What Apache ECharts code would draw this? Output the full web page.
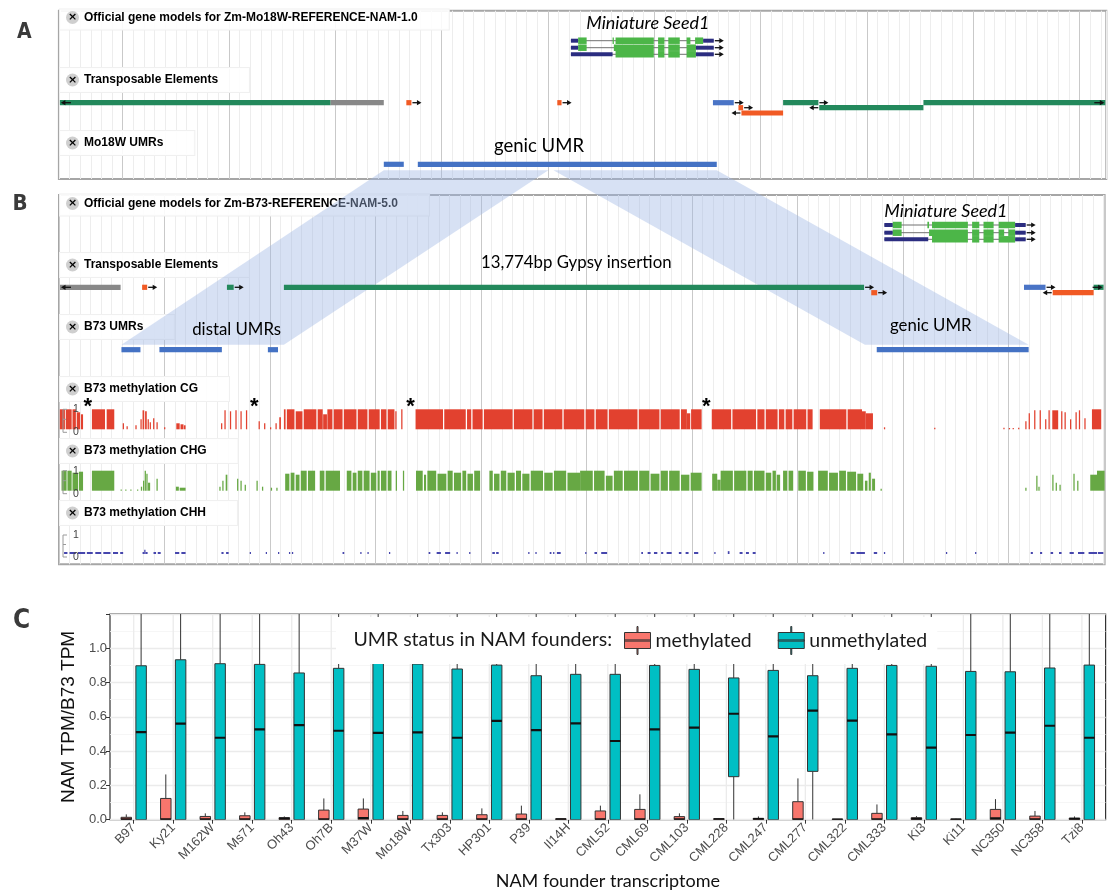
<!DOCTYPE html>
<html>
<head>
<meta charset="utf-8">
<script src="https://cdn.jsdelivr.net/npm/echarts@6.0.0/dist/echarts.min.js"></script>
<style>
html,body{margin:0;padding:0;background:#fff;}
#chart{width:1111px;height:893px;}
</style>
</head>
<body>
<div id="chart"></div>
<script>
// ====================== DATA ======================
// ---- Panel C: expression ratio box plots ----
const founders = ['B97','Ky21','M162W','Ms71','Oh43','Oh7B','M37W','Mo18W','Tx303','HP301','P39','Il14H','CML52','CML69','CML103','CML228','CML247','CML277','CML322','CML333','Ki3','Ki11','NC350','NC358','Tzi8'];
// methylated UMR status (red)
const metLow    = [0,0,0,0,0,0,0,0,0,0,0,0,0,0,0,0,0,0,0,0,0,0,0,0,0];
const metQ1     = [0,0,0,0,0,0,0,0,0,0,0,0,0,0,0,0,0,0,0,0,0,0,0,0,0];
const metMedian = [0.002,0.002,0.002,0.002,0.006,0.002,0.010,0.002,0.002,0.002,0.002,0.002,0.002,0.002,0.002,0.002,0.004,0.002,0.001,0.002,0.003,0.001,0.008,0.002,0.004];
const metQ3     = [0.014,0.124,0.019,0.023,0.012,0.056,0.062,0.025,0.025,0.029,0.033,0.005,0.051,0.060,0.018,0.006,0.008,0.105,0.003,0.037,0.012,0.004,0.060,0.021,0.010];
const metHigh   = [0.031,0.264,0.037,0.043,0.019,0.124,0.124,0.051,0.043,0.066,0.082,0.007,0.082,0.148,0.037,0.010,0.019,0.241,0.004,0.089,0.021,0.006,0.120,0.051,0.019];
// unmethylated UMR status (cyan)
const unLow     = [0,0,0,0,0,0,0,0,0,0,0,0,0,0,0,0,0,0,0,0,0,0,0,0,0];
const unQ1      = [0,0,0,0,0,0,0,0,0,0,0,0,0,0,0,0.251,0,0.282,0,0,0,0,0,0,0];
const unMedian  = [0.511,0.560,0.478,0.527,0.552,0.519,0.506,0.510,0.478,0.576,0.523,0.562,0.459,0.527,0.537,0.618,0.486,0.636,0.578,0.498,0.420,0.494,0.508,0.548,0.478];
const unQ3      = [0.898,0.933,0.910,0.906,0.856,0.883,0.940,0.908,0.879,0.902,0.840,0.848,0.848,0.900,0.877,0.827,0.871,0.840,0.883,0.900,0.895,0.865,0.863,0.885,0.902];
const unHigh    = [1.5,1.5,1.5,1.5,1.5,1.5,1.5,1.5,1.5,1.5,1.5,1.5,1.5,1.5,1.5,1.5,1.5,1.5,1.5,1.5,1.5,1.5,1.5,1.5,1.5];

// ---- Panel A: Mo18W browser (kb from left edge of view) ----
const aTranscripts = [
  [[12.04,12.21,'utr'],[12.21,12.41,'cds'],[13.02,13.05,'cds'],[13.09,13.99,'cds'],[14.09,14.24,'cds'],[14.33,14.60,'cds'],[14.76,14.85,'cds'],[14.96,15.15,'cds'],[15.15,15.40,'utr']],
  [[12.04,12.21,'utr'],[12.21,12.41,'cds'],[13.05,13.99,'cds'],[14.09,14.24,'cds'],[14.33,14.60,'cds'],[14.76,14.98,'cds'],[14.98,15.40,'utr']],
  [[12.04,13.02,'utr'],[13.09,13.99,'cds'],[14.09,14.24,'cds'],[14.33,14.60,'cds'],[14.76,14.98,'cds'],[14.98,15.40,'utr']]
];
// [start, end, strand, row, class]
const aTEs = [
  [-0.5,6.39,-1,0,'LTR'],[6.39,7.64,0,0,'other'],[8.17,8.29,1,0,'DNA'],[11.72,11.82,1,0,'DNA'],
  [15.38,15.87,1,0,'Helitron'],[15.98,16.09,1,1,'DNA'],[16.05,17.03,-1,2,'DNA'],
  [17.03,17.86,1,0,'LTR'],[17.88,20.33,-1,1,'LTR'],[20.33,25.5,1,0,'LTR']
];
const aUMRs = [[7.64,8.11],[8.44,15.47]];

// ---- Panel B: B73 browser ----
const bTranscripts = [
  [[19.56,19.76,'utr'],[19.76,19.97,'cds'],[20.58,20.62,'cds'],[20.69,21.54,'cds'],[21.64,21.81,'cds'],[21.91,22.15,'cds'],[22.27,22.66,'cds'],[22.66,22.91,'utr']],
  [[19.56,19.76,'utr'],[19.76,19.97,'cds'],[20.62,21.54,'cds'],[21.64,21.81,'cds'],[21.91,22.15,'cds'],[22.27,22.40,'cds'],[22.50,22.66,'cds'],[22.66,22.91,'utr']],
  [[19.56,20.60,'utr'],[20.69,21.54,'cds'],[21.64,21.81,'cds'],[21.91,22.15,'cds'],[22.27,22.66,'cds'],[22.66,22.91,'utr']]
];
const bTEs = [
  [-0.5,1.46,-1,0,'other'],[1.97,2.09,1,0,'DNA'],[3.98,4.14,1,0,'LTR'],[5.33,19.08,1,0,'LTR'],
  [19.25,19.39,1,1,'DNA'],[22.87,23.38,1,0,'Helitron'],[23.55,24.52,-1,1,'DNA'],[24.52,25.5,1,0,'LTR']
];
const bUMRs = [[1.48,1.93],[2.38,3.86],[4.95,5.19],[19.38,22.98]];
// methylation segments [start kb, end kb, level 0-1]
const cgSegments = [
  [0.02,0.14,1.0],[0.16,0.30,1.0],[0.32,0.40,1.0],[0.42,0.50,0.85],[0.52,0.57,0.75],[0.78,1.09,1.0],[1.13,1.31,1.0],
  [1.51,1.54,0.30],[1.60,1.63,0.15],[1.81,1.84,0.20],[1.93,1.96,0.50],[1.98,2.02,0.95],[2.04,2.08,0.90],[2.10,2.13,0.50],[2.15,2.17,0.35],
  [2.23,2.26,0.55],[2.31,2.34,0.35],[2.49,2.52,0.10],[2.78,2.86,0.30],[2.88,2.95,0.25],[2.96,3.00,0.20],
  [3.84,3.87,0.30],[3.92,3.95,0.95],[4.05,4.08,0.90],[4.18,4.21,0.95],[4.30,4.33,0.90],[4.43,4.46,0.95],
  [4.73,4.76,0.40],[4.86,4.89,0.30],[5.00,5.03,0.10],[5.13,5.16,0.30],[5.22,5.26,0.60],
  [5.33,5.37,1.0],[5.40,5.58,1.0],[5.61,5.77,0.9],[5.80,6.10,1.0],[6.13,6.25,1.0],[6.26,6.35,0.75],[6.36,6.48,1.0],[6.51,6.72,1.0],[6.75,7.05,1.0],[7.08,7.31,1.0],[7.34,7.60,1.0],[7.63,7.76,1.0],[7.79,7.95,1.0],[7.97,8.00,0.9],
  [8.11,8.14,1.0],
  [8.45,9.10,1.0],[9.13,9.64,1.0],[9.67,9.77,1.0],[9.80,10.04,1.0],[10.07,10.75,1.0],[10.78,11.22,1.0],[11.25,11.46,1.0],[11.49,11.93,1.0],[11.96,12.45,1.0],[12.48,12.69,1.0],[12.72,13.00,1.0],[13.03,13.71,1.0],[13.74,14.23,1.0],[14.26,14.71,1.0],[14.74,14.88,1.0],[14.88,14.96,0.8],[14.98,15.23,1.0],
  [15.47,15.93,1.0],[15.96,16.52,1.0],[16.55,16.72,1.0],[16.75,17.03,1.0],[17.06,17.19,1.0],[17.22,17.38,1.0],[17.41,17.71,1.0],[17.74,17.86,1.0],[18.03,18.66,1.0],[18.69,19.03,1.0],[19.03,19.12,0.9],[19.12,19.29,0.8],
  [19.55,19.58,0.10],[20.74,20.77,0.08],[22.38,22.41,0.08],[22.51,22.54,0.06],[22.60,22.63,0.05],[22.73,22.76,0.08],
  [22.90,22.93,0.40],[22.98,23.01,0.80],[23.11,23.14,0.95],[23.24,23.27,0.95],[23.37,23.40,0.50],[23.45,23.48,0.95],[23.54,23.68,0.95],[23.75,23.78,0.90],[23.83,23.86,0.85],[23.96,23.99,0.50],[24.09,24.12,0.85],[24.17,24.20,0.95],[24.30,24.33,0.55],[24.48,24.70,1.0]
];
const chgSegments = [
  [0.06,0.18,1.0],[0.20,0.30,1.0],[0.32,0.45,0.90],[0.47,0.57,0.95],[0.78,1.31,1.0],
  [1.46,1.48,0.05],[1.57,1.59,0.05],[1.69,1.71,0.05],[1.85,1.87,0.05],
  [1.94,1.97,0.20],[1.99,2.02,0.50],[2.03,2.06,1.00],[2.07,2.10,0.85],[2.11,2.16,0.40],[2.31,2.34,0.60],
  [2.77,2.84,0.20],[2.86,3.00,0.15],[3.80,3.83,0.20],[3.87,3.90,0.50],[3.95,3.99,0.80],
  [4.22,4.25,0.60],[4.30,4.33,0.50],[4.40,4.43,0.30],[4.68,4.71,0.50],[4.81,4.84,0.20],[5.02,5.05,0.15],[5.15,5.18,0.15],
  [5.36,5.46,0.85],[5.49,5.58,0.9],[5.61,5.70,0.8],[5.73,5.87,1.0],[5.90,6.07,1.0],
  [6.18,6.29,1.0],[6.32,6.66,1.0],
  [6.82,6.93,1.0],[6.96,7.05,0.9],[7.08,7.19,1.0],[7.22,7.36,1.0],[7.39,7.52,0.9],[7.55,7.60,1.0],[7.63,7.76,1.0],[7.79,7.88,1.0],
  [7.98,8.01,1.0],[8.15,8.18,1.0],
  [8.46,8.62,1.0],[8.65,8.70,0.8],[8.73,8.94,1.0],[8.97,9.18,0.85],[9.21,9.33,1.0],[9.36,9.53,0.9],[9.56,9.65,1.0],[9.68,9.81,0.85],[9.84,9.98,1.0],
  [10.20,10.28,1.0],[10.31,10.44,0.85],[10.47,10.60,1.0],[10.63,10.80,0.9],[10.83,10.95,1.0],[10.98,11.15,0.85],[11.18,11.47,1.0],[11.50,11.70,0.9],[11.73,12.02,1.0],[12.05,12.35,0.9],
  [12.35,12.65,1.0],[12.68,12.93,1.0],[12.96,13.12,0.75],[13.15,13.36,1.0],[13.39,13.72,1.0],[13.75,13.99,1.0],[14.02,14.23,0.85],[14.26,14.43,1.0],[14.46,14.71,1.0],[14.74,14.94,0.8],[14.97,15.23,0.9],
  [15.48,15.60,0.85],[15.60,15.68,0.55],[15.68,15.97,1.0],[16.00,16.29,1.0],[16.32,16.44,1.0],[16.47,16.72,1.0],[16.75,16.88,0.9],[16.91,16.99,1.0],[17.01,17.09,0.8],
  [17.16,17.26,1.0],[17.29,17.40,1.0],[17.52,17.70,1.0],[17.73,17.88,0.95],
  [17.99,18.22,1.0],[18.25,18.46,0.9],[18.49,18.65,1.0],[18.68,18.89,0.95],[18.92,19.06,0.85],
  [19.10,19.16,0.5],[19.19,19.24,0.9],[19.27,19.34,0.6],
  [19.47,19.50,0.10],[22.90,22.93,0.15],[23.16,23.19,0.75],[23.21,23.24,0.20],[23.54,23.57,0.80],[23.62,23.65,0.40],[23.71,23.74,0.30],
  [24.04,24.07,0.85],[24.13,24.16,0.50],[24.44,24.60,0.80],[24.60,24.78,1.0]
];
const chhSegments = [
  [0.12,0.20,0.05],[0.25,0.40,0.06],[0.45,0.62,0.08],[0.66,0.80,0.06],[0.86,1.00,0.05],[1.05,1.22,0.07],[1.28,1.40,0.05],[1.45,1.52,0.04],
  [1.98,2.02,0.10],[2.02,2.05,0.22],[2.05,2.10,0.10],[2.24,2.30,0.05],[2.34,2.41,0.05],[2.75,2.85,0.05],[2.90,3.00,0.04],
  [3.85,3.90,0.03],[3.96,4.02,0.03],[4.52,4.55,0.03],[4.90,4.93,0.03],[5.19,5.22,0.05],[5.45,5.48,0.04],[5.52,5.55,0.04],
  [6.72,6.76,0.05],[7.14,7.17,0.06],[7.31,7.34,0.05],[7.82,7.85,0.05],[8.76,8.80,0.03],[8.95,9.05,0.03],[9.15,9.27,0.03],[9.42,9.45,0.04],[9.72,9.75,0.03],
  [10.27,10.33,0.06],[10.36,10.42,0.06],[11.12,11.15,0.03],[11.29,11.32,0.03],[11.63,11.67,0.03],[11.71,11.74,0.04],[11.80,11.89,0.03],
  [12.47,12.50,0.04],[12.69,12.75,0.04],[12.85,12.99,0.04],[13.80,13.84,0.04],[13.95,14.02,0.04],[14.10,14.18,0.05],[14.27,14.32,0.05],[14.40,14.52,0.06],
  [14.69,14.75,0.04],[14.85,14.92,0.05],[15.05,15.15,0.04],[15.53,15.56,0.05],[15.85,15.89,0.15],[16.13,16.20,0.05],[16.28,16.35,0.05],[16.44,16.51,0.05],
  [18.11,18.14,0.06],[18.76,18.85,0.06],[18.90,19.10,0.08],[19.31,19.39,0.05],[19.55,19.58,0.02],[21.02,21.05,0.02],[21.71,21.74,0.02],
  [23.03,23.08,0.03],[23.25,23.30,0.03],[23.50,23.56,0.04],[23.70,23.76,0.03],[23.95,24.05,0.05],[24.15,24.30,0.05],[24.40,24.60,0.06],[24.62,24.75,0.04]
];
const cgAsterisks = [0.68, 4.63, 8.33, 15.34];
// syntenic links: Mo18W kb range (top) -> B73 kb range (bottom)
const linkTop    = [[7.64,11.51],[11.63,15.47]];
const linkBottom = [[1.48,5.33],[19.10,22.98]];

// ====================== STYLE / LAYOUT ======================
const COL = {cds:'#4cb648', utr:'#2b2d80', intron:'#707070', umr:'#4472c4', cg:'#e2412f', chg:'#67a844', chh:'#4646ad'};
const TE_COLORS = {LTR:'#23895c', other:'#888888', DNA:'#f15a24', Helitron:'#4a74c6'};
const LAY = {
  A: {gene:[30,37,43.6], te:[92,97,102.3], umr:153.6, band:159.6},
  B: {gene:[30,37.7,44.3], te:[92.3,97.7], umr:154.7, band:149.7, cg:234.3, chg:295.7, chh:359, H:20, star:212}
};
const annA = [{t:'Miniature Seed1', x:13.85, y:12.6, it:true, fs:18}, {t:'genic UMR', x:11.29, y:135, fs:18.5}];
const annB = [{t:'Miniature Seed1', x:21.02, y:15.7, it:true, fs:18}, {t:'13,774bp Gypsy insertion', x:12.26, y:67.7, fs:16.8},
              {t:'distal UMRs', x:4.21, y:135, fs:16.8}, {t:'genic UMR', x:20.66, y:131, fs:16.8}];
const minorC = '#ededed', majorC = '#c9c9c9';
const gridColorsA = [minorC,minorC,minorC,minorC,minorC,minorC,majorC,minorC,minorC,minorC];
const gridColorsB = [majorC,minorC,minorC,minorC,minorC,minorC,minorC,minorC,minorC,minorC];
const ANN_FONT = 'Lato, "Open Sans", sans-serif';
const AX_FONT = '"Liberation Sans", Arial, sans-serif';

// ====================== RENDER HELPERS ======================
function arrow(x1, x2, y) {
  const d = x2 > x1 ? 1 : -1;
  return [
    {type:'line', shape:{x1:x1, y1:y, x2:x2 - d*2, y2:y}, style:{stroke:'#111', lineWidth:1.3}},
    {type:'polygon', shape:{points:[[x2,y],[x2-d*4.5,y-2.6],[x2-d*4.5,y+2.6]]}, style:{fill:'#111'}}
  ];
}
function rectKb(api, x0, x1, y, h, fill) {
  const a = api.coord([x0, y]), b = api.coord([x1, y]);
  return {type:'rect', shape:{x:a[0], y:a[1]-h/2, width:Math.max(b[0]-a[0],1.2), height:h}, style:{fill:fill}};
}
function geneRender(transcripts, rows) {
  return function (params, api) {
    const t = transcripts[params.dataIndex], y = rows[params.dataIndex];
    const ps = api.coord([t[0][0], y]), pe = api.coord([t[t.length-1][1], y]);
    const ch = [{type:'line', shape:{x1:ps[0], y1:ps[1], x2:pe[0], y2:pe[1]}, style:{stroke:COL.intron, lineWidth:1}}];
    t.forEach(b => ch.push(rectKb(api, b[0], b[1], y, b[2]==='cds'?6.5:4, b[2]==='cds'?COL.cds:COL.utr)));
    ch.push(...arrow(pe[0]+1, pe[0]+10, pe[1]));
    return {type:'group', children:ch};
  };
}
function teRender(tes, rows) {
  return function (params, api) {
    const f = tes[params.dataIndex], cs = params.coordSys;
    const xmin = cs.x, xmax = cs.x + cs.width, y = rows[f[3]];
    const a = api.coord([f[0], y]), b = api.coord([f[1], y]);
    const clipL = a[0] < xmin, clipR = b[0] > xmax;
    const x0 = Math.max(a[0], xmin+1), x1 = Math.min(b[0], xmax-1);
    const ch = [{type:'rect', shape:{x:x0, y:a[1]-2.6, width:Math.max(x1-x0,1.5), height:5.2}, style:{fill:TE_COLORS[f[4]]}}];
    if (f[2] > 0) ch.push(...(clipR ? arrow(xmax-12, xmax-2, a[1]) : arrow(x1+1, x1+10, a[1])));
    if (f[2] < 0) ch.push(...(clipL ? arrow(xmin+12, xmin+2, a[1]) : arrow(x0-1, x0-10, a[1])));
    return {type:'group', children:ch};
  };
}
function umrRender(y) {
  return function (params, api) { return rectKb(api, api.value(0), api.value(1), y, 5.2, COL.umr); };
}
function methRender(base, H, color, minH) {
  return function (params, api) {
    const s = api.value(0), e = api.value(1), lv = api.value(2);
    const p0 = api.coord([s, base - lv*H]), p1 = api.coord([e, base]);
    const h = Math.max(p1[1]-p0[1], minH);
    return {type:'rect', shape:{x:p0[0], y:p1[1]-h, width:Math.max(p1[0]-p0[0],1.2), height:h}, style:{fill:color}};
  };
}
function annRender(list) {
  return function (params, api) {
    const a = list[params.dataIndex];
    const p = api.coord([a.x, a.y]);
    return {type:'text', x:p[0], y:p[1], style:{text:a.t, fontFamily:ANN_FONT, fontSize:a.fs, fontStyle:a.it?'italic':'normal', fill:'#000', align:'center', verticalAlign:'middle'}};
  };
}
function trackAxisRender(bases, heights) {
  return function (params, api) {
    const i = params.dataIndex, cs = params.coordSys;
    const top = api.coord([0, bases[i]-heights[i]])[1], bot = api.coord([0, bases[i]])[1];
    const x = cs.x + 4;
    const st = {stroke:'#9a9a9a', lineWidth:1};
    return {type:'group', children:[
      {type:'line', shape:{x1:x, y1:top, x2:x, y2:bot+3}, style:st},
      {type:'line', shape:{x1:x, y1:top, x2:x+4, y2:top}, style:st},
      {type:'line', shape:{x1:x, y1:(top+bot)/2, x2:x+3, y2:(top+bot)/2}, style:st},
      {type:'line', shape:{x1:x, y1:bot+3, x2:x+4, y2:bot+3}, style:st},
      {type:'text', x:x+10, y:top, style:{text:'1', fontFamily:AX_FONT, fontSize:10.5, fill:'#444', align:'left', verticalAlign:'middle'}},
      {type:'text', x:x+10, y:bot+3, style:{text:'0', fontFamily:AX_FONT, fontSize:10.5, fill:'#444', align:'left', verticalAlign:'middle'}}
    ]};
  };
}
function boxRender(offset, color) {
  return function (params, api) {
    const i = api.value(0);
    const bw = api.size([1,0])[0];
    const cx = api.coord([i,0])[0] + offset*bw, w = 0.265*bw;
    const yLo = api.coord([i, api.value(1)])[1], yQ1 = api.coord([i, api.value(2)])[1];
    const yMd = api.coord([i, api.value(3)])[1], yQ3 = api.coord([i, api.value(4)])[1], yHi = api.coord([i, api.value(5)])[1];
    const ls = {stroke:'#333', lineWidth:1};
    return {type:'group', children:[
      {type:'line', shape:{x1:cx, y1:yQ3, x2:cx, y2:yHi}, style:ls},
      {type:'line', shape:{x1:cx, y1:yLo, x2:cx, y2:yQ1}, style:ls},
      {type:'rect', shape:{x:cx-w/2, y:yQ3, width:w, height:Math.max(yQ1-yQ3,0.6)}, style:{fill:color, stroke:'#333', lineWidth:1}},
      {type:'line', shape:{x1:cx-w/2, y1:yMd, x2:cx+w/2, y2:yMd}, style:{stroke:'#111', lineWidth:2.2}}
    ]};
  };
}
function vGridRender(params, api) {
  const p0 = api.coord([api.value(0), 0]), p1 = api.coord([api.value(0), 1.2]);
  return {type:'line', shape:{x1:p0[0], y1:p0[1], x2:p1[0], y2:p1[1]}, style:{stroke:'#ebebeb', lineWidth:1.3}};
}
function cust(name, xi, render, data, extra) {
  return Object.assign({type:'custom', name:name, coordinateSystem:'cartesian2d', xAxisIndex:xi, yAxisIndex:xi,
    renderItem:render, data:data, silent:true, z:2, clip:false, animation:false}, extra || {});
}

const metRows = founders.map((f,i) => [i, metLow[i], metQ1[i], metMedian[i], metQ3[i], metHigh[i]]);
const unRows  = founders.map((f,i) => [i, unLow[i], unQ1[i], unMedian[i], unQ3[i], unHigh[i]]);
const BOX_ICON = 'path://M0,6H26V22H0Z M0,13.4H26V14.6H0Z M12.5,0H13.5V6H12.5Z M12.5,22H13.5V28H12.5Z';

// ====================== TEXT LABELS (graphic) ======================
const trackLabels = [
  {t:'Official gene models for Zm-Mo18W-REFERENCE-NAM-1.0', y:19.5, pt:1},
  {t:'Transposable Elements', y:80, pt:5},
  {t:'Mo18W UMRs', y:143, pt:5},
  {t:'Official gene models for Zm-B73-REFERENCE-NAM-5.0', y:205, pt:2},
  {t:'Transposable Elements', y:265, pt:5},
  {t:'B73 UMRs', y:327, pt:5},
  {t:'B73 methylation CG', y:389, pt:5},
  {t:'B73 methylation CHG', y:451, pt:5},
  {t:'B73 methylation CHH', y:513, pt:5}
];
const graphics = trackLabels.map((L, k) => ({
  type:'text', id:'lab'+k, x:60, y:L.y, z:1, silent:true,
  style:{
    text:'{i|×}{t|' + L.t + '}',
    rich:{
      i:{width:13, height:13, lineHeight:13, align:'center', verticalAlign:'middle', backgroundColor:'#cfcfcf', borderRadius:6.5, color:'#fff', fontSize:11, fontWeight:'bold', fontFamily:'DejaVu Sans'},
      t:{fontFamily:AX_FONT, fontWeight:'bold', fontSize:12, color:'#464646', padding:[0,0,0,5], lineHeight:14}
    },
    backgroundColor:'rgba(255,255,255,0.88)', borderColor:'#f0f0f0', borderWidth:1,
    padding:[L.pt,31,5,6], align:'left', verticalAlign:'middle'
  }
}));
const letterFont = '"Liberation Sans Narrow", "DejaVu Sans Condensed", sans-serif';
graphics.push(
  {type:'text', id:'LA', x:17, y:33, z:10, style:{text:'A', fontFamily:letterFont, fontWeight:'bold', fontSize:21, fill:'#3a3a3a', verticalAlign:'middle'}},
  {type:'text', id:'LB', x:12.5, y:204, z:10, style:{text:'B', fontFamily:letterFont, fontWeight:'bold', fontSize:22, fill:'#3a3a3a', verticalAlign:'middle'}},
  {type:'text', id:'LC', x:13, y:621, z:10, style:{text:'C', fontFamily:letterFont, fontWeight:'bold', fontSize:26, fill:'#3a3a3a', verticalAlign:'middle'}},
  {type:'text', id:'legTitle', x:353.5, y:640, z:6, style:{text:'UMR status in NAM founders:', fontFamily:ANN_FONT, fontSize:19.5, fill:'#1a1a1a', verticalAlign:'middle'}}
);

// ====================== OPTION ======================
const option = {
  backgroundColor:'#fff',
  animation:false,
  grid:[
    {left:58.9, top:10.7, width:1047.4, height:168.3, show:true, borderColor:'#a6a6a6', borderWidth:2, backgroundColor:'rgba(0,0,0,0)'},
    {left:59, top:195, width:1045.6, height:369.3, show:true, borderColor:'#a6a6a6', borderWidth:2, backgroundColor:'rgba(0,0,0,0)'},
    {left:110, top:614, width:995.6, height:205.7, show:true, borderColor:'#333', borderWidth:1.2, backgroundColor:'rgba(0,0,0,0)'},
    {left:113.95, top:614, width:987.7, height:205.7, show:false}
  ],
  xAxis:[
    {gridIndex:0, type:'value', min:0, max:24.63, interval:0.25, axisLabel:{show:false}, axisTick:{show:false}, axisLine:{show:false},
     splitLine:{show:true, lineStyle:{color:gridColorsA, width:1}}},
    {gridIndex:1, type:'value', min:0, max:24.78, interval:0.25, axisLabel:{show:false}, axisTick:{show:false}, axisLine:{show:false},
     splitLine:{show:true, lineStyle:{color:gridColorsB, width:1}}},
    {gridIndex:2, type:'value', min:0, max:1, show:false},
    {gridIndex:3, type:'category', data:founders, boundaryGap:true,
     axisLine:{show:false}, axisTick:{show:true, alignWithLabel:true, length:4, lineStyle:{color:'#333'}},
     axisLabel:{rotate:45, interval:0, fontFamily:AX_FONT, fontSize:13, color:'#4d4d4d', margin:6},
     splitLine:{show:false},
     name:'NAM founder transcriptome', nameLocation:'middle', nameGap:52,
     nameTextStyle:{fontFamily:ANN_FONT, fontSize:18, color:'#111'}}
  ],
  yAxis:[
    {gridIndex:0, type:'value', min:0, max:168.3, inverse:true, show:false},
    {gridIndex:1, type:'value', min:0, max:369.3, inverse:true, show:false},
    {gridIndex:2, type:'value', min:0, max:1.2, interval:0.2,
     axisLine:{show:false}, axisTick:{show:true, length:4, lineStyle:{color:'#333'}},
     axisLabel:{fontFamily:AX_FONT, fontSize:13, color:'#4d4d4d', margin:3, formatter:v => v > 1.1 ? '' : v.toFixed(1)},
     splitLine:{show:true, lineStyle:{color:'#ebebeb', width:1.3}},
     minorTick:{show:false, splitNumber:2}, minorSplitLine:{show:true, lineStyle:{color:'#f4f4f4', width:0.8}},
     name:'NAM TPM/B73 TPM', nameLocation:'middle', nameGap:30,
     nameTextStyle:{fontFamily:AX_FONT, fontSize:19, color:'#111'}},
    {gridIndex:3, type:'value', min:0, max:1.2, show:false}
  ],
  legend:{
    left:336, top:617, orient:'horizontal', padding:[9,10,9,288], backgroundColor:'#fff',
    itemWidth:26, itemHeight:28, itemGap:26, selectedMode:false,
    textStyle:{fontFamily:ANN_FONT, fontSize:19.5, color:'#1a1a1a'},
    data:[
      {name:'methylated', icon:BOX_ICON, itemStyle:{color:'#F8766D', borderColor:'#333', borderWidth:1}},
      {name:'unmethylated', icon:BOX_ICON, itemStyle:{color:'#00BFC4', borderColor:'#333', borderWidth:1}}
    ]
  },
  graphic:graphics,
  series:[
    // Panel A
    cust('A genes', 0, geneRender(aTranscripts, LAY.A.gene), aTranscripts.map(t => [t[0][0], t[t.length-1][1]])),
    cust('A TEs', 0, teRender(aTEs, LAY.A.te), aTEs.map(f => [f[0], f[1]])),
    cust('A UMRs', 0, umrRender(LAY.A.umr), aUMRs),
    cust('A notes', 0, annRender(annA), annA.map(a => [a.x, a.y]), {z:5}),
    // Panel B
    cust('B genes', 1, geneRender(bTranscripts, LAY.B.gene), bTranscripts.map(t => [t[0][0], t[t.length-1][1]])),
    cust('B TEs', 1, teRender(bTEs, LAY.B.te), bTEs.map(f => [f[0], f[1]])),
    cust('B UMRs', 1, umrRender(LAY.B.umr), bUMRs),
    cust('CG', 1, methRender(LAY.B.cg, LAY.B.H, COL.cg, 1.3), cgSegments, {encode:{x:[0,1], y:2}}),
    cust('CHG', 1, methRender(LAY.B.chg, LAY.B.H, COL.chg, 1.3), chgSegments, {encode:{x:[0,1], y:2}}),
    cust('CHH', 1, methRender(LAY.B.chh, 19, COL.chh, 2), chhSegments, {encode:{x:[0,1], y:2}}),
    cust('track axes', 1, trackAxisRender([LAY.B.cg, LAY.B.chg, LAY.B.chh], [LAY.B.H, LAY.B.H, 19]), [[0],[1],[2]]),
    cust('stars', 1, function (params, api) {
      const p = api.coord([api.value(0), LAY.B.star]);
      return {type:'text', x:p[0], y:p[1], style:{text:'*', fontFamily:AX_FONT, fontWeight:'bold', fontSize:22, fill:'#000', align:'center', verticalAlign:'middle'}};
    }, cgAsterisks.map(p => [p]), {z:5}),
    cust('B notes', 1, annRender(annB), annB.map(a => [a.x, a.y]), {z:5}),
    // Panel C
    cust('vgrid', 3, vGridRender, founders.map((f,i) => [i]), {z:1}),
    cust('methylated', 3, boxRender(-0.1875, '#F8766D'), metRows, {clip:true, itemStyle:{color:'#F8766D'}, encode:{x:0, y:[1,2,3,4,5]}}),
    cust('unmethylated', 3, boxRender(0.1875, '#00BFC4'), unRows, {clip:true, itemStyle:{color:'#00BFC4'}, encode:{x:0, y:[1,2,3,4,5]}})
  ]
};

const chart = echarts.init(document.getElementById('chart'), null, {renderer:'canvas'});
chart.setOption(option);

// translucent synteny bands between panel A and panel B UMRs
const bands = linkTop.map((top, k) => {
  const bot = linkBottom[k];
  const p1 = chart.convertToPixel({gridIndex:0}, [top[0], LAY.A.band]);
  const p2 = chart.convertToPixel({gridIndex:0}, [top[1], LAY.A.band]);
  const p3 = chart.convertToPixel({gridIndex:1}, [bot[1], LAY.B.band]);
  const p4 = chart.convertToPixel({gridIndex:1}, [bot[0], LAY.B.band]);
  return {type:'polygon', id:'band'+k, z:1.5, silent:true, shape:{points:[p1,p2,p3,p4]}, style:{fill:'rgba(160,184,228,0.42)'}};
});
chart.setOption({graphic:bands});
</script>
</body>
</html>
